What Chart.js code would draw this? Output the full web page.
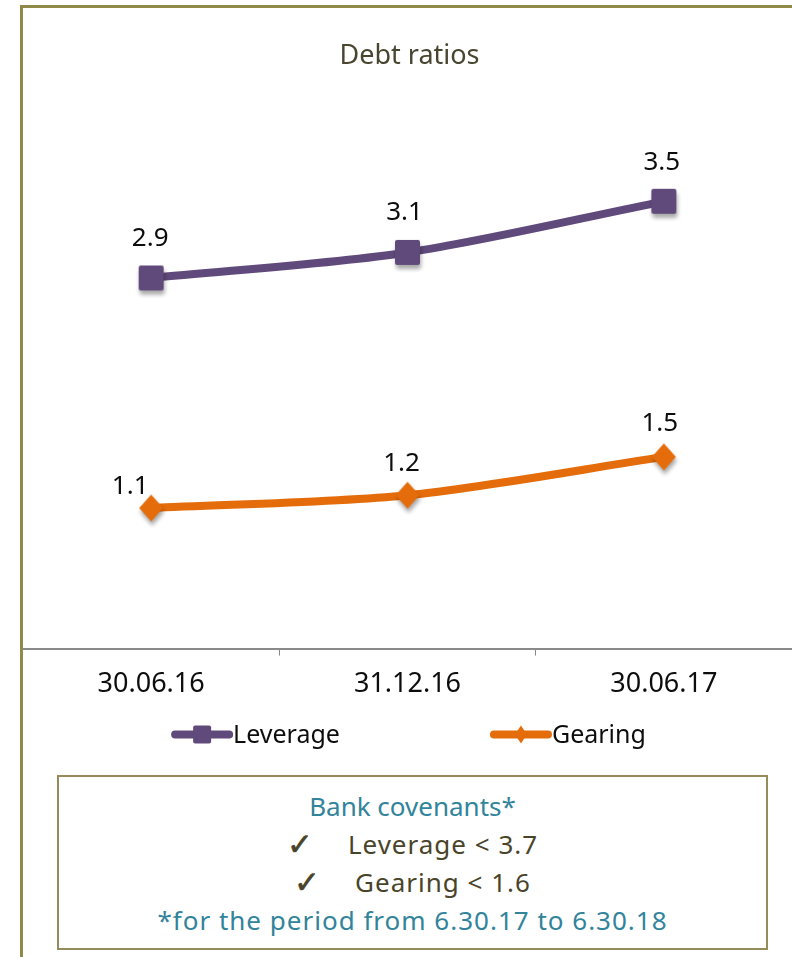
<!DOCTYPE html>
<html>
<head>
<meta charset="utf-8">
<title>Debt ratios</title>
<script src="https://cdn.jsdelivr.net/npm/chart.js@4.4.1/dist/chart.umd.min.js"></script>
<style>
  body {
    margin: 0;
    width: 792px;
    height: 957px;
    overflow: hidden;
    position: relative;
    background: #fff;
    font-family: "Noto Sans", "DejaVu Sans", sans-serif;
  }
  #borda-topo { position: absolute; left: 20px; top: 5px; right: 0; height: 3px; background: #8F8A48; }
  #borda-esq { position: absolute; left: 20px; top: 5px; bottom: 0; width: 3px; background: #8F8A48; }
  #grafico-wrap { position: absolute; left: 0; top: 0; width: 796px; height: 770px; }
  #covenants {
    position: absolute;
    left: 57px;
    top: 775px;
    width: 711px;
    height: 175px;
    box-sizing: border-box;
    border: 2px solid #958C5A;
    padding-top: 10px;
    text-align: center;
    font-size: 26px;
    line-height: 38px;
    color: #494429;
  }
  #covenants .teal { color: #31849B; }
  #covenants .largo { letter-spacing: 1px; }
  #covenants .check {
    display: inline-block;
    margin-right: 34px;
    font-family: "DejaVu Sans", sans-serif;
    font-size: 31px;
    line-height: 38px;
    vertical-align: top;
    -webkit-text-stroke: 0.6px #494429;
  }
</style>
</head>
<body>
<div id="grafico-wrap"><canvas id="grafico-divida" width="796" height="770"></canvas></div>
<div id="borda-topo"></div>
<div id="borda-esq"></div>
<div id="covenants">
  <div class="teal">Bank covenants*</div>
  <div class="largo"><span class="check">✓</span>Leverage &lt; 3.7</div>
  <div class="largo"><span class="check">✓</span>Gearing &lt; 1.6</div>
  <div class="teal largo">*for the period from 6.30.17 to 6.30.18</div>
</div>
<script>
// Dados do gráfico
const periodos = ['30.06.16', '31.12.16', '30.06.17'];
const leverage = [2.9, 3.1, 3.5];
const gearing = [1.1, 1.2, 1.5];

const corLeverage = '#604A7B';
const corGearing = '#E46C0A';
const fonte = '"Noto Sans", "DejaVu Sans", sans-serif';

// deslocamento (dx, dy) de cada rótulo em relação ao ponto
const deslocRotulos = [
  [[-1, -39], [-3, -40], [-2, -39]],
  [[-21, -21], [-6, -32], [-4, -33]]
];

// Marcadores com sombra, desenhados numa canvas à parte
function criarQuadrado(lado, cor) {
  const pad = 10;
  const c = document.createElement('canvas');
  c.width = lado + pad * 2;
  c.height = lado + pad * 2;
  const ctx = c.getContext('2d');
  ctx.shadowColor = 'rgba(0,0,0,0.35)';
  ctx.shadowBlur = 4;
  ctx.shadowOffsetX = 1;
  ctx.shadowOffsetY = 4;
  ctx.fillStyle = cor;
  ctx.beginPath();
  ctx.roundRect(pad, pad, lado, lado, 2);
  ctx.fill();
  return c;
}

function criarLosango(larg, alt, cor) {
  const pad = 10;
  const c = document.createElement('canvas');
  c.width = larg + pad * 2;
  c.height = alt + pad * 2;
  const ctx = c.getContext('2d');
  const cx = c.width / 2, cy = c.height / 2;
  ctx.shadowColor = 'rgba(0,0,0,0.35)';
  ctx.shadowBlur = 4;
  ctx.shadowOffsetX = 1;
  ctx.shadowOffsetY = 4;
  ctx.fillStyle = cor;
  ctx.beginPath();
  ctx.moveTo(cx, cy - alt / 2);
  ctx.lineTo(cx + larg / 2, cy);
  ctx.lineTo(cx, cy + alt / 2);
  ctx.lineTo(cx - larg / 2, cy);
  ctx.closePath();
  ctx.fill();
  return c;
}

// Rótulos com o valor acima de cada ponto
const rotulosValores = {
  id: 'rotulosValores',
  afterDatasetsDraw(chart) {
    const ctx = chart.ctx;
    ctx.save();
    ctx.font = '26px ' + fonte;
    ctx.fillStyle = '#0D0D0D';
    ctx.textAlign = 'center';
    ctx.textBaseline = 'middle';
    chart.data.datasets.forEach((ds, i) => {
      chart.getDatasetMeta(i).data.forEach((pt, j) => {
        const d = deslocRotulos[i][j];
        ctx.fillText(ds.data[j].toFixed(1), pt.x + d[0], pt.y + d[1]);
      });
    });
    ctx.restore();
  }
};

// Legenda com amostra de linha + marcador
const legendaLinhas = {
  id: 'legendaLinhas',
  afterDraw(chart) {
    const ctx = chart.ctx;
    const area = chart.chartArea;
    const y = area.bottom + 86;
    ctx.save();
    ctx.font = '25px ' + fonte;
    const itens = chart.data.datasets.map(ds => ({
      texto: ds.label,
      cor: ds.borderColor,
      tipo: ds.tipoMarcador,
      largura: 62 + ctx.measureText(ds.label).width
    }));
    const espaco = 150;
    const total = itens.reduce((s, it) => s + it.largura, 0) + espaco * (itens.length - 1);
    let x = (area.left + area.right) / 2 + 2 - total / 2;
    itens.forEach(it => {
      ctx.strokeStyle = it.cor;
      ctx.lineWidth = 8;
      ctx.lineCap = 'round';
      ctx.beginPath();
      ctx.moveTo(x + 3, y);
      ctx.lineTo(x + 57, y);
      ctx.stroke();
      ctx.fillStyle = it.cor;
      ctx.beginPath();
      if (it.tipo === 'quadrado') {
        ctx.roundRect(x + 21, y - 9, 18, 18, 2);
      } else {
        ctx.moveTo(x + 30, y - 9);
        ctx.lineTo(x + 36, y);
        ctx.lineTo(x + 30, y + 9);
        ctx.lineTo(x + 24, y);
        ctx.closePath();
      }
      ctx.fill();
      ctx.fillStyle = '#0D0D0D';
      ctx.textAlign = 'left';
      ctx.textBaseline = 'middle';
      ctx.fillText(it.texto, x + 61, y + 1);
      x += it.largura + espaco;
    });
    ctx.restore();
  }
};

const ctx = document.getElementById('grafico-divida').getContext('2d');

new Chart(ctx, {
  type: 'line',
  data: {
    labels: periodos,
    datasets: [
      {
        label: 'Leverage',
        data: leverage,
        borderColor: corLeverage,
        backgroundColor: corLeverage,
        borderWidth: 8,
        tension: 0.3,
        pointStyle: criarQuadrado(25, corLeverage),
        pointRadius: 1,
        pointBorderWidth: 0,
        tipoMarcador: 'quadrado'
      },
      {
        label: 'Gearing',
        data: gearing,
        borderColor: corGearing,
        backgroundColor: corGearing,
        borderWidth: 8,
        tension: 0.3,
        pointStyle: criarLosango(24, 27, corGearing),
        pointRadius: 1,
        pointBorderWidth: 0,
        tipoMarcador: 'losango'
      }
    ]
  },
  options: {
    responsive: false,
    animation: false,
    events: [],
    layout: { padding: { left: 23, right: 0, top: 0, bottom: 56 } },
    plugins: {
      legend: { display: false },
      tooltip: { enabled: false },
      title: {
        display: true,
        text: 'Debt ratios',
        color: '#4A4530',
        font: { family: fonte, size: 27, weight: 'normal' },
        padding: { top: 40, bottom: 65 }
      }
    },
    scales: {
      x: {
        offset: true,
        grid: {
          display: true,
          offset: true,
          drawOnChartArea: false,
          drawTicks: true,
          tickLength: 7,
          color: '#8A8A8A',
          lineWidth: 1
        },
        border: { display: true, color: '#8A8A8A', width: 2 },
        ticks: {
          color: '#0D0D0D',
          font: { family: fonte, size: 27 },
          padding: 13,
          maxRotation: 0
        }
      },
      y: { display: false, min: 0, max: 4 }
    }
  },
  plugins: [rotulosValores, legendaLinhas]
});
</script>
</body>
</html>
